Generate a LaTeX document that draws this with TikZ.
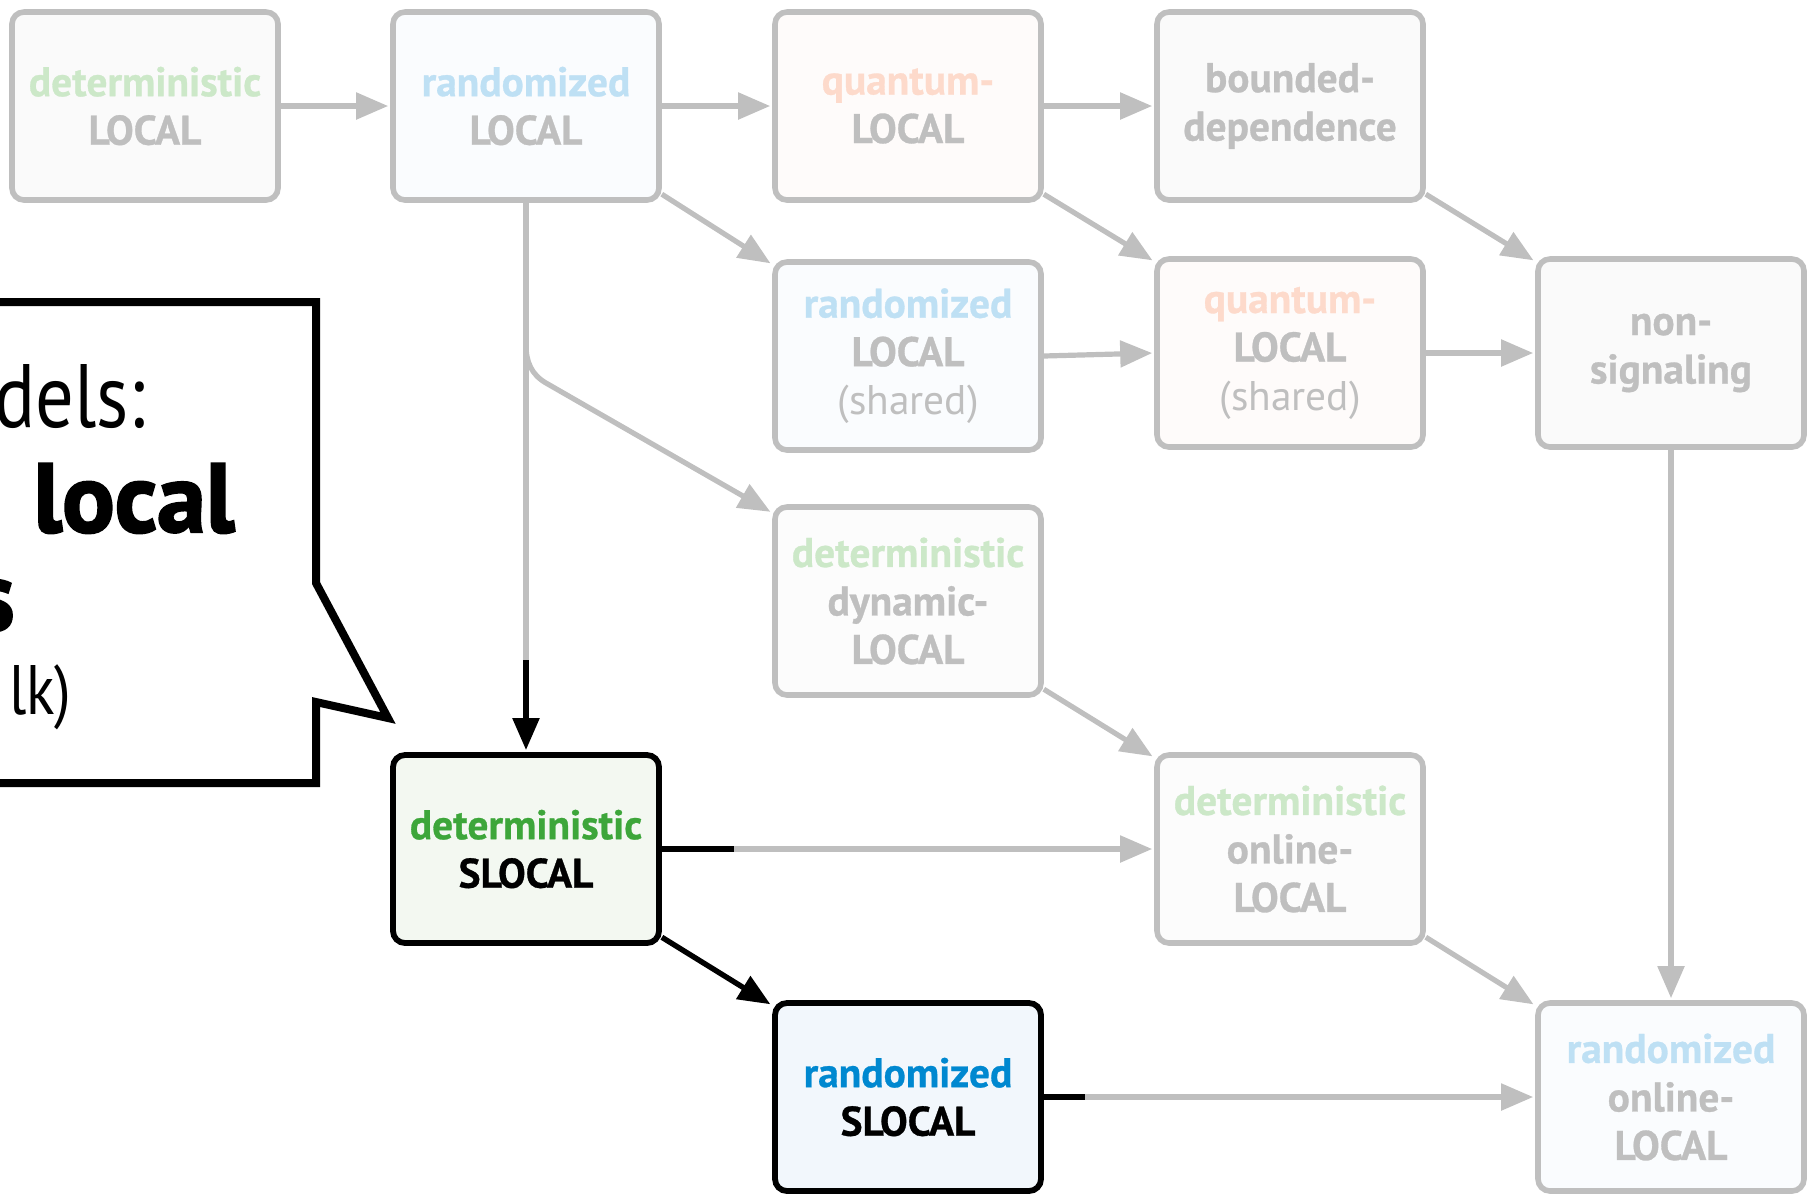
\documentclass[tikz,border=0pt]{standalone}
\usepackage{fontspec}
\newfontfamily\bxf{PT Sans}[BoldFeatures={FakeBold=0.7}]
\newfontfamily\cof{PT Sans}[FakeStretch=0.85]
\newfontfamily\cofb{PT Sans Bold}[FakeBold=2.2]
\usetikzlibrary{arrows.meta,shadows}
\definecolor{lgray}{RGB}{191,191,191}
\definecolor{fgreen}{RGB}{204,232,200}
\definecolor{fblue}{RGB}{190,224,244}
\definecolor{forange}{RGB}{253,218,203}
\definecolor{sgreen}{RGB}{61,166,58}
\definecolor{sblue}{RGB}{0,136,208}
\definecolor{fillgray}{RGB}{250,250,250}
\definecolor{fillgrayb}{RGB}{252,252,252}
\definecolor{fillblue}{RGB}{250,252,254}
\definecolor{fillpink}{RGB}{254,251,250}
\definecolor{fillsg}{RGB}{243,248,241}
\definecolor{fillsb}{RGB}{242,247,252}
\begin{document}
\begin{tikzpicture}[x=0.5pt,y=-0.5pt,
  mbox/.style={draw=lgray, fill=#1, line width=2.8pt, rounded corners=6pt,
    minimum width=133pt, minimum height=94pt, inner sep=0pt, align=center,
    text=lgray, font=\bxf\bfseries\fontsize{20.7}{24.25}\selectfont},
  mbox/.default=fillgray,
  sbox/.style={mbox=#1, draw=black, text=black, line width=2.9pt},
  gline/.style={draw=lgray, line width=2.6pt},
  garrow/.style={gline, -{Triangle[length=16pt,width=13pt]}, shorten >=1pt},
  bline/.style={draw=black, line width=2.7pt},
  barrow/.style={bline, -{Triangle[length=16pt,width=13pt]}, shorten >=1pt},
  lighttxt/.style={anchor=base east, inner sep=0pt, font=\cof\fontsize{45}{54}\selectfont},
  heavytxt/.style={anchor=base east, inner sep=0pt, font=\cofb\fontsize{49}{54}\selectfont}
]
\useasboundingbox (0,0) rectangle (1810,1196);

% callout
\draw[line width=4pt, line join=miter, fill=white,
  drop shadow={shadow xshift=1.5pt, shadow yshift=-1.5pt, opacity=0.3, fill=black!60}]
  (-40,302) -- (316,302) -- (316,583) -- (388,718) -- (316,702) -- (316,783) -- (-40,783) -- cycle;
\node[lighttxt] (t1) at (146,427) {dels:};
\node[heavytxt] (t2) at (235,532) {local};
\node[heavytxt] (t3) at (15,630) {s};
\node[lighttxt, font=\cof\fontsize{35}{42}\selectfont] (t4) at (72,714) {lk)};

% boxes
\node[mbox=fillgray] (dl) at (145,106) {\textcolor{fgreen}{deterministic}\\LOCAL};
\node[mbox=fillblue] (rl) at (526,106) {\textcolor{fblue}{randomized}\\LOCAL};
\node[mbox=fillpink] (ql) at (908,106) {\textcolor{forange}{quantum-}\\LOCAL};
\node[mbox=fillgray] (bd) at (1290,106) {bounded-\\dependence};
\node[mbox=fillblue] (rs) at (908,356) {\textcolor{fblue}{randomized}\\LOCAL\\{\mdseries(shared)}};
\node[mbox=fillpink] (qs) at (1290,353) {\textcolor{forange}{quantum-}\\LOCAL\\{\mdseries(shared)}};
\node[mbox=fillgray] (ns) at (1671,353) {non-\\signaling};
\node[mbox=fillgrayb] (dyn) at (908,601) {\textcolor{fgreen}{deterministic}\\dynamic-\\LOCAL};
\node[sbox=fillsg] (dsl) at (526,849) {\textcolor{sgreen}{deterministic}\\SLOCAL};
\node[mbox=fillgrayb] (dol) at (1290,849) {\textcolor{fgreen}{deterministic}\\online-\\LOCAL};
\node[sbox=fillsb] (rsl) at (908,1097) {\textcolor{sblue}{randomized}\\SLOCAL};
\node[mbox=fillblue] (rol) at (1671,1097) {\textcolor{fblue}{randomized}\\online-\\LOCAL};

% helper coordinates
\coordinate (k0) at (526,660);
\coordinate (b1) at (526,345);
\coordinate (b2) at (546,383);
\coordinate (k1) at (734,849);
\coordinate (k2) at (1085,1097);

% gray connectors
\draw[garrow] (dl.east) -- (rl.west);
\draw[garrow] (rl.east) -- (ql.west);
\draw[garrow] (ql.east) -- (bd.west);
\draw[garrow] (rl.-33) -- (rs.146);
\draw[garrow] (ql.-33) -- (qs.146);
\draw[garrow] (bd.-33) -- (ns.146);
\draw[garrow] (rs.east) -- (qs.west);
\draw[garrow] (qs.east) -- (ns.west);
\draw[garrow] (ns.south) -- (rol.north);
\draw[garrow] (dyn.-33) -- (dol.146);
\draw[garrow] (dol.-33) -- (rol.146);
\draw[gline] (rl.south) -- (k0);
\draw[garrow] (rl.south) -- (b1) to[out=-90,in=150] (b2) -- (dyn.147);
\draw[garrow] (k1) -- (dol.west);
\draw[garrow] (k2) -- (rol.west);

% black connectors
\draw[barrow] (k0) -- (dsl.north);
\draw[bline] (dsl.east) -- (k1);
\draw[barrow] (dsl.-33) -- (rsl.146);
\draw[bline] (rsl.east) -- (k2);
\end{tikzpicture}
\end{document}
